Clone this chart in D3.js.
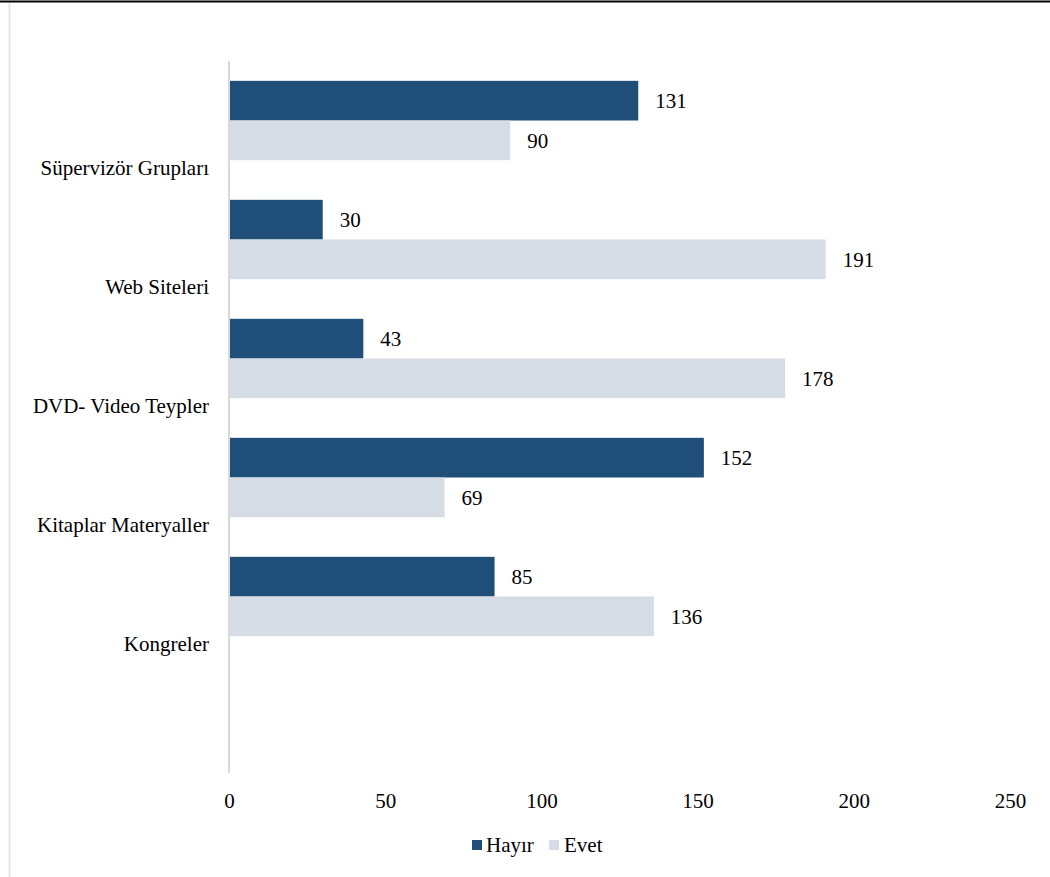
<!DOCTYPE html>
<html>
<head>
<meta charset="utf-8">
<script src="https://cdn.jsdelivr.net/npm/d3@7"></script>
<style>
  html, body { margin: 0; padding: 0; background: #fff; }
  svg { display: block; }
  text { font-family: "Liberation Serif", "Times New Roman", serif; fill: #000; }
</style>
</head>
<body>
<svg id="chart" width="1050" height="877"></svg>
<script>
// Resource usage by category: "Hayır" (no) and "Evet" (yes) counts
const categories = ["Süpervizör Grupları", "Web Siteleri", "DVD- Video Teypler", "Kitaplar Materyaller", "Kongreler"];
const hayir = [131, 30, 43, 152, 85];
const evet = [90, 191, 178, 69, 136];
const seriesNames = ["Hayır", "Evet"];
const xTicks = [0, 50, 100, 150, 200, 250];

const colors = { "Hayır": "#1F4E79", "Evet": "#D6DCE5" };
const FS = 21;

const svg = d3.select("#chart");

// frame lines around the plot area
svg.append("line").attr("x1", 0).attr("x2", 1050).attr("y1", 1.5).attr("y2", 1.5)
  .attr("stroke", "#000").attr("stroke-width", 2);
svg.append("line").attr("x1", 9.5).attr("x2", 9.5).attr("y1", 3).attr("y2", 877)
  .attr("stroke", "#E3E6EB").attr("stroke-width", 2);

const x = d3.scaleLinear().domain([0, 250]).range([229, 1010]);

const y = d3.scaleBand().domain(categories).range([61, 656]).paddingInner(0).paddingOuter(0);
const ySub = d3.scaleBand().domain(seriesNames).range([0, y.bandwidth()]).paddingInner(0).paddingOuter(0.5);

const rows = categories.map((c, i) => ({ cat: c, values: [
  { key: "Hayır", value: hayir[i] },
  { key: "Evet", value: evet[i] }
]}));

const groups = svg.append("g").selectAll("g").data(rows).join("g")
  .attr("transform", d => `translate(0,${y(d.cat)})`);

groups.selectAll("rect").data(d => d.values).join("rect")
  .attr("x", x(0))
  .attr("y", d => ySub(d.key))
  .attr("width", d => x(d.value) - x(0))
  .attr("height", ySub.bandwidth())
  .attr("fill", d => colors[d.key]);

groups.selectAll("text.val").data(d => d.values).join("text")
  .attr("class", "val")
  .attr("x", d => x(d.value) + 17)
  .attr("y", d => ySub(d.key) + ySub.bandwidth() / 2)
  .attr("dy", "0.35em")
  .attr("font-size", FS)
  .text(d => d.value);

// category labels
svg.append("g").selectAll("text").data(categories).join("text")
  .attr("x", 209)
  .attr("y", d => y(d) + 107)
  .attr("dy", "0.35em")
  .attr("text-anchor", "end")
  .attr("font-size", FS)
  .text(d => d);

// vertical category axis line
svg.append("line").attr("x1", x(0)).attr("x2", x(0)).attr("y1", 61).attr("y2", 773)
  .attr("stroke", "#D9D9D9").attr("stroke-width", 2);

// value axis
const xAxis = d3.axisBottom(x).tickValues(xTicks).tickSize(0).tickPadding(0);
const gx = svg.append("g").attr("transform", "translate(0,801)").call(xAxis);
gx.select(".domain").remove();
gx.selectAll("text").attr("font-size", FS).attr("fill", "#000")
  .attr("font-family", "'Liberation Serif', 'Times New Roman', serif")
  .attr("dy", "0.35em").attr("y", 0);

// legend
const legendItems = [
  { key: "Hayır", sx: 472, tx: 486 },
  { key: "Evet", sx: 549, tx: 564 }
];
const lg = svg.append("g").selectAll("g").data(legendItems).join("g");
lg.append("rect").attr("x", d => d.sx).attr("y", 840).attr("width", 10).attr("height", 10)
  .attr("fill", d => colors[d.key]);
lg.append("text").attr("x", d => d.tx).attr("y", 845).attr("dy", "0.35em")
  .attr("font-size", FS).text(d => d.key);
</script>
</body>
</html>
